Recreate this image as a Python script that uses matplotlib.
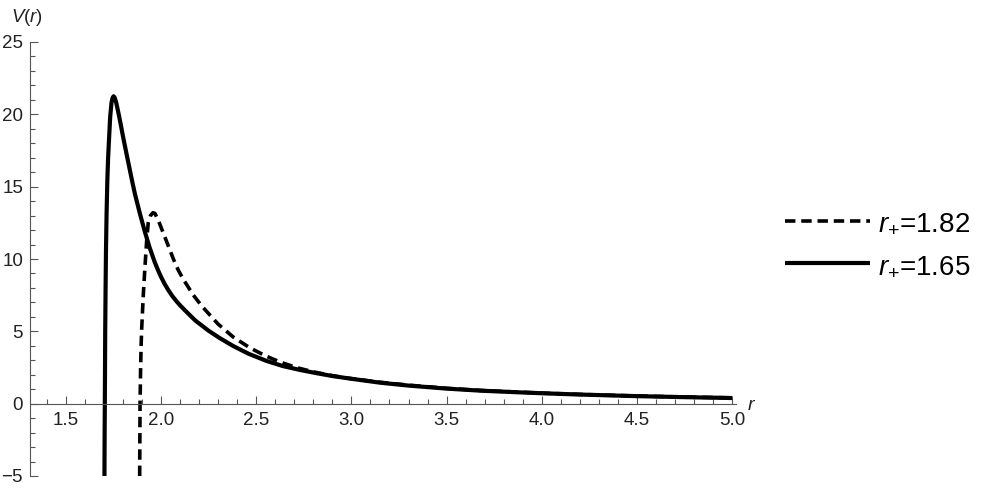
import matplotlib
matplotlib.use("Agg")
import matplotlib.pyplot as plt
from matplotlib.ticker import MultipleLocator, FormatStrFormatter

plt.rcParams.update({
    "font.family": ["Liberation Sans", "DejaVu Sans"],
    "mathtext.fontset": "custom",
    "mathtext.rm": "Liberation Sans",
    "mathtext.it": "Liberation Sans:italic",
    "lines.scale_dashes": False,
})

AXIS = "#555555"
TXT = "#222222"

# curve for r+ = 1.65 (solid)
r_165 = [1.703, 1.704, 1.705, 1.706, 1.707, 1.709, 1.711, 1.714, 1.718, 1.722,
         1.726, 1.733, 1.740, 1.746, 1.751, 1.757, 1.765, 1.778, 1.79, 1.80,
         1.82, 1.849, 1.863, 1.89, 1.916, 1.94, 1.968, 1.984, 2.0, 2.019,
         2.038, 2.059, 2.08, 2.10, 2.126, 2.18, 2.249, 2.31, 2.38, 2.46,
         2.555, 2.64, 2.73, 2.82, 2.905, 3.0, 3.151, 3.3, 3.5, 3.676,
         3.85, 4.0, 4.2, 4.5, 4.75, 5.0]
V_165 = [-5.0, -2.0, 0.0, 2.5, 5.0, 8.0, 10.5, 13.0, 15.35, 16.9,
         18.0, 19.8, 20.8, 21.15, 21.25, 21.15, 20.8, 20.0, 19.2, 18.5,
         17.2, 15.35, 14.5, 13.1, 11.85, 10.8, 9.75, 9.24, 8.77, 8.28,
         7.86, 7.45, 7.1, 6.8, 6.45, 5.75, 5.05, 4.52, 3.98, 3.45,
         2.95, 2.6, 2.33, 2.1, 1.9, 1.72, 1.45, 1.25, 1.04, 0.9,
         0.8, 0.72, 0.63, 0.52, 0.45, 0.39]

# curve for r+ = 1.82 (dashed)
r_182 = [1.888, 1.89, 1.893, 1.896, 1.899, 1.907, 1.916, 1.925, 1.933, 1.945,
         1.958, 1.968, 1.985, 2.012, 2.04, 2.065, 2.09, 2.117, 2.17, 2.214,
         2.3, 2.38, 2.468, 2.55, 2.625, 2.71, 2.8, 2.89, 2.976, 3.15,
         3.3, 3.5, 3.7, 4.0, 4.2, 4.5, 4.75, 5.0]
V_182 = [-5.0, 0.0, 2.5, 4.2, 5.3, 7.5, 9.5, 11.3, 12.5, 13.0,
         13.2, 13.15, 12.7, 11.8, 10.85, 10.0, 9.25, 8.6, 7.5, 6.75,
         5.5, 4.6, 3.85, 3.3, 2.88, 2.5, 2.2, 1.96, 1.77, 1.48,
         1.28, 1.06, 0.9, 0.73, 0.64, 0.53, 0.46, 0.4]

labels = [r"$r_{+}$=1.82", r"$r_{+}$=1.65"]

fig = plt.figure(figsize=(9.89, 4.91), dpi=100)
ax = fig.add_axes([30 / 989, 15 / 491, 706 / 989, 434 / 491])

ax.plot(r_182, V_182, color="black", lw=2.6, dashes=(7.5, 4.2),
        solid_capstyle="butt", dash_capstyle="butt", label=labels[0])
ax.plot(r_165, V_165, color="black", lw=3.0, solid_capstyle="butt",
        solid_joinstyle="round", label=labels[1])

ax.set_xlim(1.312, 5.02)
ax.set_ylim(-5, 25)

for s in ("top", "right"):
    ax.spines[s].set_visible(False)
ax.spines["bottom"].set_position(("data", 0))
for s in ("left", "bottom"):
    ax.spines[s].set_color(AXIS)
    ax.spines[s].set_linewidth(0.8)

ax.xaxis.set_major_locator(MultipleLocator(0.5))
ax.xaxis.set_minor_locator(MultipleLocator(0.1))
ax.yaxis.set_major_locator(MultipleLocator(5))
ax.yaxis.set_minor_locator(MultipleLocator(1))
ax.xaxis.set_major_formatter(FormatStrFormatter("%.1f"))

ax.tick_params(which="both", direction="in", color=AXIS, width=0.8,
               labelcolor=TXT, labelsize=13.5)
ax.tick_params(which="major", length=6)
ax.tick_params(which="minor", length=3.5)
ax.tick_params(axis="x", pad=6)
ax.tick_params(axis="y", pad=5)

fig.text(27 / 989, 1 - 17 / 491, r"$V(r)$", ha="center", va="center",
         fontsize=13.5, color=TXT)
fig.text(752 / 989, 1 - 406 / 491, r"$r$", ha="center", va="center",
         fontsize=14, color=TXT)

ax.legend(loc="center left", bbox_to_anchor=(785 / 989, 1 - 245 / 491),
          bbox_transform=fig.transFigure, frameon=False, fontsize=20,
          handlelength=3.05, handletextpad=0.3, labelspacing=0.58,
          borderpad=0, borderaxespad=0)

fig.savefig("out.png", dpi=100)
